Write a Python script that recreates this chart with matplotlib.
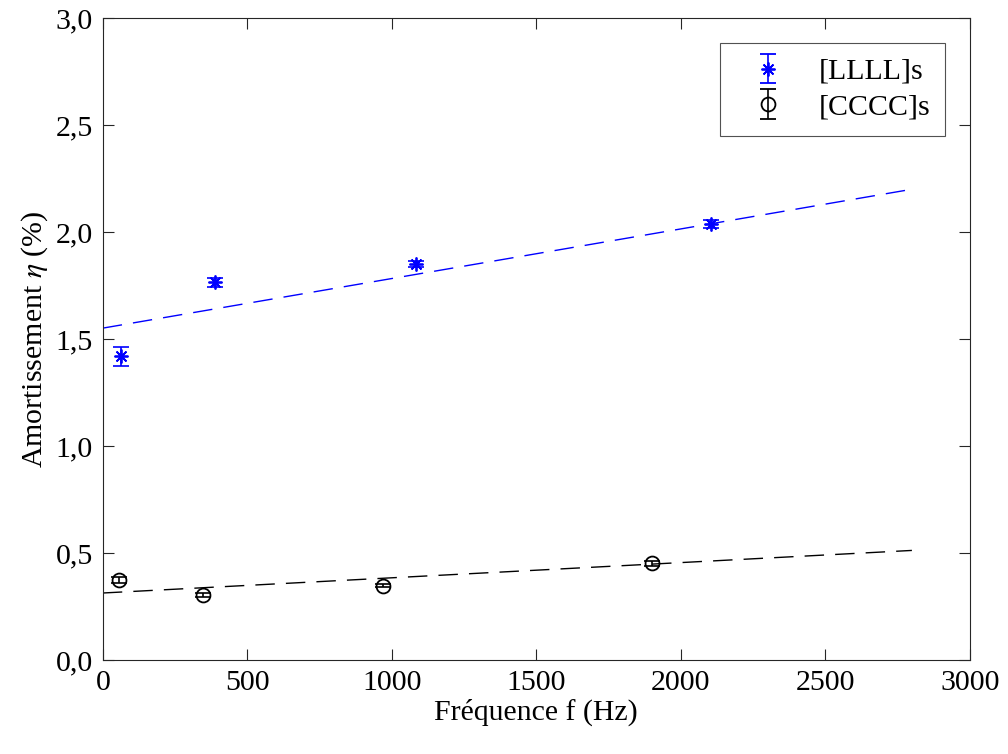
import numpy as np
import matplotlib
matplotlib.use('Agg')
import matplotlib.pyplot as plt

plt.rcParams['font.family'] = ['Liberation Serif', 'DejaVu Serif']
plt.rcParams['mathtext.fontset'] = 'stix'

# [LLLL]s measurements
freq_l = [62, 388, 1083, 2104]
eta_l = [1.42, 1.766, 1.85, 2.037]
err_l = [0.045, 0.021, 0.015, 0.02]
# [CCCC]s measurements
freq_c = [55, 345, 970, 1900]
eta_c = [0.374, 0.305, 0.348, 0.452]
err_c = [0.012, 0.01, 0.008, 0.012]
# linear fits
fit_x = [0, 2800]
fit_l = [1.551, 2.2]
fit_c = [0.313, 0.512]

fig = plt.figure(figsize=(10.08, 7.54), dpi=100)
ax = fig.add_axes([0.102, 0.1247, 0.860, 0.8513])

ax.errorbar(freq_l, eta_l, yerr=err_l, fmt='none', ecolor='#0000ff',
            capsize=6, elinewidth=1.2, capthick=1.2)
ax.errorbar(freq_c, eta_c, yerr=err_c, fmt='none', ecolor='black',
            capsize=6, elinewidth=1.2, capthick=1.2)
ax.plot(freq_l, eta_l, ls='none', marker=(8, 2, 0), color='#0000ff', ms=10, mew=1.3)
ax.plot(freq_c, eta_c, ls='none', marker='o', color='black', mfc='none', ms=10, mew=1.3)
ax.plot(fit_x, fit_l, color='#0000ff', lw=1.0, dashes=(14, 8))
ax.plot(fit_x, fit_c, color='black', lw=1.0, dashes=(14, 8))

# legend handles: marker with vertical error bar
h1 = ax.errorbar([np.nan], [np.nan], yerr=[0.1], ls='none', marker=(8, 2, 0),
                 color='#0000ff', ms=10, mew=1.3, capsize=6, elinewidth=1.2)
h2 = ax.errorbar([np.nan], [np.nan], yerr=[0.1], ls='none', marker='o', mfc='none',
                 color='black', ms=10, mew=1.3, capsize=6, elinewidth=1.2)

ax.set_xlim(0, 3000)
ax.set_ylim(0, 3.0)
ax.set_xticks(np.arange(0, 3001, 500))
yt = np.arange(0, 3.01, 0.5)
ax.set_yticks(yt)
ax.set_yticklabels([f'{v:.1f}'.replace('.', ',') for v in yt])
ax.tick_params(direction='in', top=True, right=True, labelsize=21.5, length=8,
               width=0.8, colors='#262626', labelcolor='black', pad=7)
for s in ax.spines.values():
    s.set_linewidth(0.8)
    s.set_color('#262626')

ax.set_xlabel('Fréquence f (Hz)', fontsize=21.5, labelpad=2)
ax.set_ylabel(r'Amortissement $\eta$ (%)', fontsize=21.5, labelpad=4)

leg = ax.legend([h1, h2], ['[LLLL]s', '[CCCC]s'], loc='upper right',
                bbox_to_anchor=(0.972, 0.961), fontsize=21.5,
                frameon=True, fancybox=False, edgecolor='#262626',
                handlelength=2.2, handletextpad=0.6, borderpad=0.5,
                labelspacing=0.3, borderaxespad=0)
leg.get_frame().set_linewidth(0.8)

fig.savefig('out.png', dpi=100)
